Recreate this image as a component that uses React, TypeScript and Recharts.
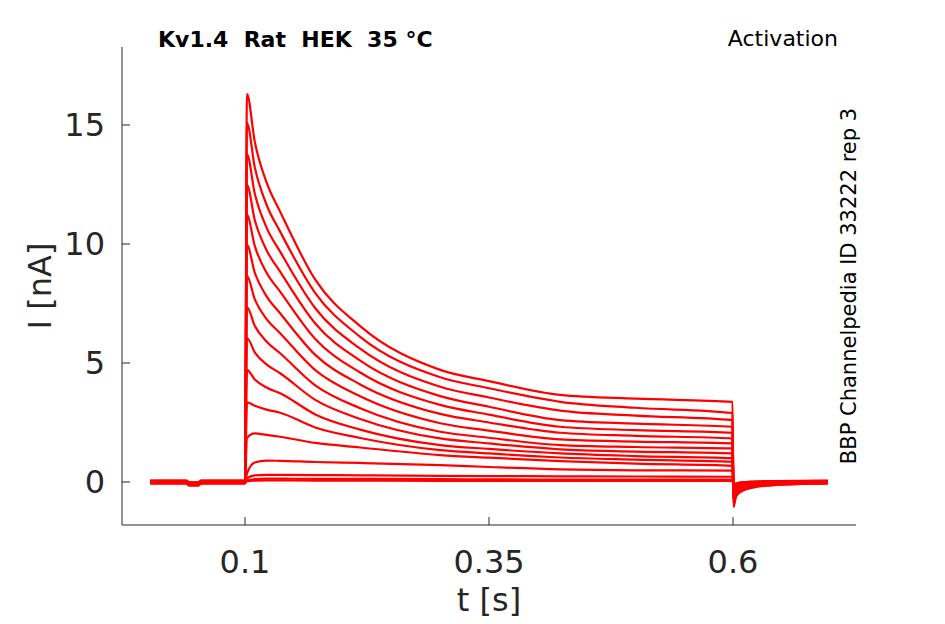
import React from 'react';
import { LineChart, Line, XAxis, YAxis } from 'recharts';

// sample times [s] shared by all sweeps
const TIMES = [0.003, 0.04, 0.043, 0.052, 0.055, 0.1, 0.102, 0.11, 0.122, 0.136, 0.172, 0.218, 0.3, 0.35, 0.423, 0.5, 0.5995, 0.6005, 0.603, 0.608, 0.62, 0.64, 0.67, 0.697];

// current [nA] of each activation sweep
const SWEEP_1 = [0.05, 0.05, -0.03, -0.03, 0.05, 0.05, 16.3, 14.3, 12.6, 11.36, 8.5, 6.55, 4.71, 4.24, 3.66, 3.5, 3.37, -1.05, -0.62, -0.4, -0.22, -0.1, -0.02, 0.03];
const SWEEP_2 = [-0.04, -0.04, -0.12, -0.12, -0.04, -0.04, 15.08, 13.23, 11.66, 10.52, 7.94, 6.1, 4.4, 3.94, 3.37, 3.12, 2.9, -0.95, -0.6, -0.4, -0.24, -0.14, -0.08, -0.05];
const SWEEP_3 = [0.02, 0.02, -0.06, -0.06, 0.02, 0.02, 13.78, 12.12, 10.7, 9.68, 7.3, 5.6, 4.0, 3.55, 3.0, 2.79, 2.6, -0.88, -0.52, -0.33, -0.17, -0.07, 0.0, 0.02];
const SWEEP_4 = [-0.06, -0.06, -0.14, -0.14, -0.06, -0.06, 12.48, 11.01, 9.75, 8.84, 6.66, 5.1, 3.61, 3.16, 2.6, 2.45, 2.32, -0.8, -0.5, -0.34, -0.2, -0.12, -0.08, -0.06];
const SWEEP_5 = [0.06, 0.06, -0.02, -0.02, 0.06, 0.06, 11.22, 9.92, 8.8, 8.0, 6.01, 4.6, 3.24, 2.83, 2.32, 2.18, 2.07, -0.72, -0.4, -0.24, -0.1, -0.02, 0.04, 0.06];
const SWEEP_6 = [-0.02, -0.02, -0.1, -0.1, -0.02, -0.02, 9.96, 8.8, 7.81, 7.09, 5.34, 4.1, 2.86, 2.5, 2.07, 1.94, 1.83, -0.65, -0.38, -0.25, -0.13, -0.07, -0.03, -0.02];
const SWEEP_7 = [0.03, 0.03, -0.05, -0.05, 0.03, 0.03, 8.66, 7.68, 6.85, 6.25, 4.7, 3.6, 2.47, 2.16, 1.79, 1.7, 1.62, -0.58, -0.32, -0.2, -0.08, -0.02, 0.02, 0.03];
const SWEEP_8 = [-0.05, -0.05, -0.13, -0.13, -0.05, -0.05, 7.35, 6.56, 5.9, 5.41, 4.06, 3.1, 2.11, 1.86, 1.55, 1.47, 1.41, -0.52, -0.32, -0.22, -0.13, -0.08, -0.06, -0.05];
const SWEEP_9 = [0, 0, -0.08, -0.08, 0, 0, 6.05, 5.45, 4.94, 4.57, 3.45, 2.65, 1.83, 1.62, 1.37, 1.28, 1.2, -0.46, -0.26, -0.16, -0.08, -0.03, -0.01, 0];
const SWEEP_10 = [0.04, 0.04, -0.04, -0.04, 0.04, 0.04, 4.71, 4.31, 3.97, 3.73, 2.84, 2.2, 1.55, 1.39, 1.2, 1.09, 1.0, -0.4, -0.2, -0.11, -0.03, 0.01, 0.03, 0.04];
const SWEEP_11 = [-0.03, -0.03, -0.11, -0.11, -0.03, -0.03, 3.35, 3.2, 3.04, 2.91, 2.29, 1.85, 1.34, 1.2, 1.03, 0.94, 0.85, -0.35, -0.2, -0.13, -0.07, -0.04, -0.03, -0.03];
const SWEEP_12 = [0.01, 0.01, -0.07, -0.07, 0.01, 0.01, 1.85, 2.04, 1.98, 1.9, 1.64, 1.45, 1.13, 1.02, 0.88, 0.77, 0.68, -0.3, -0.16, -0.09, -0.04, -0.01, 0.0, 0.01];
const SWEEP_13 = [-0.01, -0.01, -0.09, -0.09, -0.01, -0.01, 0.35, 0.82, 0.9, 0.89, 0.84, 0.8, 0.71, 0.63, 0.53, 0.49, 0.48, -0.25, -0.14, -0.08, -0.04, -0.02, -0.01, -0.01];
const SWEEP_14 = [0.05, 0.05, -0.03, -0.03, 0.05, 0.05, 0.15, 0.28, 0.3, 0.3, 0.29, 0.28, 0.26, 0.25, 0.24, 0.23, 0.22, -0.18, -0.08, -0.02, 0.02, 0.04, 0.05, 0.05];
const SWEEP_15 = [-0.06, -0.06, -0.14, -0.14, -0.06, -0.06, 0.05, 0.12, 0.14, 0.14, 0.13, 0.13, 0.12, 0.11, 0.1, 0.1, 0.1, -0.2, -0.12, -0.08, -0.07, -0.06, -0.06, -0.06];
const SWEEP_16 = [0.02, 0.02, -0.06, -0.06, 0.02, 0.02, 0.04, 0.06, 0.07, 0.07, 0.06, 0.06, 0.05, 0.05, 0.05, 0.05, 0.05, -0.15, -0.06, -0.01, 0.01, 0.02, 0.02, 0.02];

const SWEEPS = [SWEEP_1, SWEEP_2, SWEEP_3, SWEEP_4, SWEEP_5, SWEEP_6, SWEEP_7, SWEEP_8,
  SWEEP_9, SWEEP_10, SWEEP_11, SWEEP_12, SWEEP_13, SWEEP_14, SWEEP_15, SWEEP_16];

const X_TICKS = [0.1, 0.35, 0.6];
const Y_TICKS = [0, 5, 10, 15];

const TITLE = 'Kv1.4  Rat  HEK  35 °C';
const PROTOCOL = 'Activation';
const SOURCE = 'BBP Channelpedia ID 33222 rep 3';

const INK = '#262626';
const FONT = '"DejaVu Sans", sans-serif';

const rows = TIMES.map((t, i) => {
  const row: Record<string, number> = { t };
  SWEEPS.forEach((s, k) => { row[`s${k}`] = s[i]; });
  return row;
});

// MATLAB-style ticks: short marks pointing into the plot
const XTick = (props: any) => {
  const { x, payload } = props;
  return (
    <g>
      <line x1={x} x2={x} y1={525} y2={517} stroke={INK} strokeWidth={1} />
      <text x={x} y={573} textAnchor="middle" fontSize={32} fontFamily={FONT} fill={INK}>
        {String(payload.value)}
      </text>
    </g>
  );
};

const YTick = (props: any) => {
  const { y, payload } = props;
  return (
    <g>
      <line x1={122} x2={130} y1={y} y2={y} stroke={INK} strokeWidth={1} />
      <text x={105} y={y + 11} textAnchor="end" fontSize={32} fontFamily={FONT} fill={INK}>
        {String(payload.value)}
      </text>
    </g>
  );
};

export default function App() {
  return (
    <div style={{ position: 'absolute', left: 0, top: 0, width: 945, height: 624, background: '#fff' }}>
      <LineChart
        width={945}
        height={624}
        data={rows}
        margin={{ top: 47, right: 89, bottom: 0, left: 0 }}
      >
        <XAxis
          dataKey="t"
          type="number"
          domain={[-0.02602, 0.72602]}
          ticks={X_TICKS}
          interval={0}
          height={99}
          tickLine={false}
          tickSize={0}
          axisLine={{ stroke: INK, strokeWidth: 1 }}
          tick={<XTick />}
          allowDataOverflow
        />
        <YAxis
          type="number"
          domain={[-1.807, 18.277]}
          ticks={Y_TICKS}
          interval={0}
          width={122}
          tickLine={false}
          tickSize={0}
          axisLine={{ stroke: INK, strokeWidth: 1 }}
          tick={<YTick />}
          allowDataOverflow
        />
        {SWEEPS.map((_s, k) => (
          <Line
            key={k}
            dataKey={`s${k}`}
            type="monotone"
            stroke="#ff0000"
            strokeWidth={2.2}
            dot={false}
            activeDot={false}
            isAnimationActive={false}
          />
        ))}
      </LineChart>
      <svg width={945} height={624} style={{ position: 'absolute', left: 0, top: 0, pointerEvents: 'none' }}>
        <text x={158} y={47} fontSize={22} fontWeight="bold" fontFamily={FONT} fill="#000" style={{ whiteSpace: 'pre' }}>
          {TITLE}
        </text>
        <text x={838} y={46} textAnchor="end" fontSize={22} fontFamily={FONT} fill="#000">
          {PROTOCOL}
        </text>
        <text x={849} y={286} textAnchor="middle" dominantBaseline="central" fontSize={21} fontFamily={FONT} fill="#000"
          transform="rotate(-90 849 286)">
          {SOURCE}
        </text>
        <text x={40} y={286} textAnchor="middle" dominantBaseline="central" fontSize={32} fontFamily={FONT} fill={INK}
          transform="rotate(-90 40 286)">
          I [nA]
        </text>
        <text x={489} y={611} textAnchor="middle" fontSize={32} fontFamily={FONT} fill={INK}>
          t [s]
        </text>
      </svg>
    </div>
  );
}
